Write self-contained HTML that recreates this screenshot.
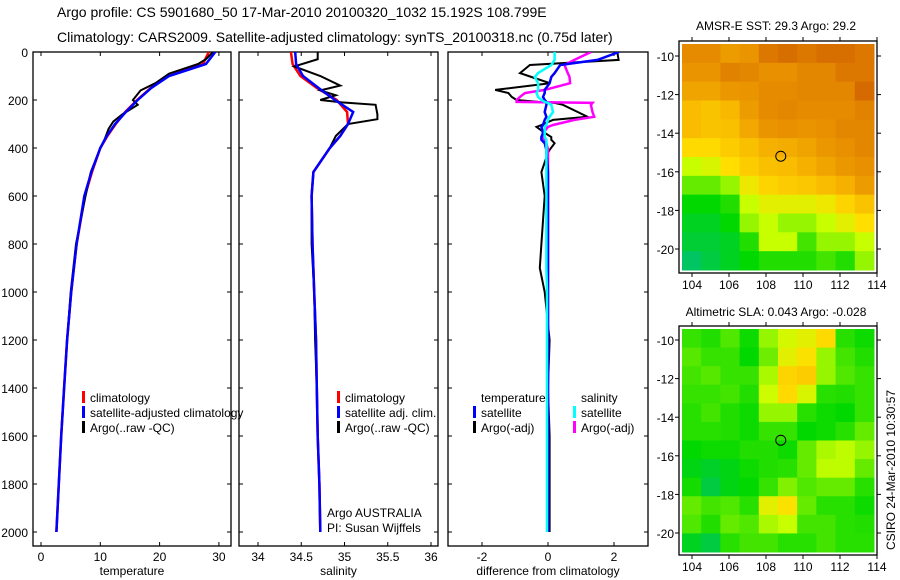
<!DOCTYPE html>
<html><head><meta charset="utf-8"><style>
body{margin:0;background:#fff;width:900px;height:580px;overflow:hidden}
svg{display:block;font-family:"Liberation Sans",sans-serif}
</style></head><body>
<svg id="s" width="900" height="580" viewBox="0 0 900 580">
<text x="57" y="17" font-size="14">Argo profile: CS 5901680_50 17-Mar-2010 20100320_1032 15.192S 108.799E</text>
<text x="57" y="42" font-size="14">Climatology: CARS2009. Satellite-adjusted climatology: synTS_20100318.nc (0.75d later)</text>
<text x="776" y="30" font-size="12" text-anchor="middle">AMSR-E SST: 29.3 Argo: 29.2</text>
<text x="776" y="316" font-size="12" text-anchor="middle">Altimetric SLA: 0.043 Argo: -0.028</text>
<text transform="translate(895,470) rotate(-90)" font-size="12" text-anchor="middle">CSIRO 24-Mar-2010 10:30:57</text>
</svg>
<script>
// ---- data ----
const depthTicks=[0,200,400,600,800,1000,1200,1400,1600,1800,2000];
const tempTicks=[0,10,20,30];
const salTicks=[34,34.5,35,35.5,36];
const diffTicks=[-2,0,2];
const climDepth=[0,50,100,150,200,250,300,350,400,500,600,800,1000,1200,1400,1600,1800,2000];
const tempClim=[28.3,27.3,21.5,18.5,16.2,14.2,12.6,11.2,10.0,8.6,7.4,6.0,5.1,4.4,3.9,3.4,3.0,2.6];
const tempSat=[29.4,27.8,21.6,18.6,16.3,14.3,12.5,11.1,10.0,8.5,7.3,6.0,5.1,4.4,3.9,3.4,3.0,2.6];
const argoTempDepth=[0,30,50,90,130,160,200,220,260,290,320,360,400,500,600,800,1000,1200,1400,1600,1800,2000];
const argoTemp=[29.0,27.8,26.5,21.6,19.3,16.8,15.5,16.3,13.7,12.2,11.4,10.8,10.0,8.4,7.5,5.9,5.0,4.4,3.9,3.4,3.0,2.6];
const salClim=[34.38,34.40,34.49,34.68,34.91,35.03,35.04,34.95,34.83,34.64,34.62,34.63,34.65,34.67,34.68,34.69,34.71,34.72];
const salSat=[34.43,34.44,34.52,34.70,34.89,35.10,35.04,34.95,34.83,34.64,34.62,34.63,34.65,34.67,34.68,34.69,34.71,34.72];
const argoSalDepth=[0,30,60,100,140,160,180,200,210,220,260,280,300,350,400,500,600,800,1000,1200,1400,1600,1800,2000];
const argoSal=[34.69,34.69,34.42,34.72,34.95,34.72,34.90,34.72,34.97,35.36,35.38,35.38,35.04,34.90,34.83,34.64,34.62,34.62,34.65,34.66,34.68,34.69,34.71,34.72];
const diffDepth=[0,33,54,88,104,130,158,171,187,200,208,212,220,250,270,283,304,312,337,354,366,380,408,420,500,600,800,900,1000,1200,1400,1600,1800,2000];
const diffTempArgo=[2.1,2.14,-0.55,-0.85,-0.5,0.06,-1.6,-1.2,-1.1,-0.95,-0.3,0.2,0.45,0.9,1.2,0.15,-0.2,-0.35,-0.1,0.1,0.1,0.2,0.05,0.0,-0.2,-0.1,-0.2,-0.25,-0.1,0.05,0.0,0.05,0.05,0.05];
const diffTempSat=[2.15,1.5,0.37,0.2,0.1,0.05,-0.1,-0.1,-0.15,-0.1,-0.05,-0.05,-0.05,-0.1,-0.05,-0.1,-0.15,-0.2,-0.15,-0.2,-0.2,-0.1,-0.05,-0.05,0,0,0,0,0,0,0,0,0,0];
const diffSalSat=[0.2,0.2,0.1,-0.3,-0.4,-0.3,-0.3,-0.35,-0.3,-0.2,-0.1,0.0,0.1,0.15,0.05,0.0,-0.05,-0.1,-0.1,-0.1,-0.05,-0.05,-0.05,-0.05,-0.05,-0.05,-0.05,-0.05,-0.03,-0.03,-0.03,-0.03,-0.03,-0.03];
const diffSalArgo=[1.3,0.8,0.5,0.6,0.65,0.67,-0.1,-0.7,-0.85,-0.95,-0.95,1.35,1.3,1.35,1.4,0.8,0.15,0.0,-0.15,-0.15,-0.1,-0.05,0.0,0.0,0.0,0.0,0.0,0.0,0.0,0.0,0.0,0.0,0.0,0.0];
const latTicks=[-10,-12,-14,-16,-18,-20];
const lonTicks=[104,106,108,110,112,114];
const sstGrid=[
[0.86,0.86,0.82,0.84,0.9,0.92,0.9,0.92,0.92,0.9],
[0.84,0.84,0.88,0.87,0.85,0.85,0.87,0.87,0.9,0.9],
[0.8,0.8,0.83,0.84,0.86,0.86,0.87,0.87,0.87,0.93],
[0.74,0.72,0.75,0.82,0.86,0.87,0.86,0.86,0.86,0.88],
[0.74,0.72,0.73,0.79,0.84,0.85,0.84,0.85,0.87,0.87],
[0.66,0.66,0.7,0.73,0.77,0.78,0.8,0.83,0.85,0.87],
[0.55,0.58,0.65,0.7,0.73,0.74,0.77,0.8,0.83,0.85],
[0.45,0.45,0.5,0.62,0.68,0.7,0.71,0.74,0.77,0.82],
[0.3,0.3,0.35,0.55,0.6,0.6,0.6,0.62,0.68,0.72],
[0.25,0.25,0.3,0.5,0.55,0.5,0.5,0.55,0.6,0.65],
[0.22,0.22,0.25,0.35,0.55,0.55,0.4,0.5,0.5,0.55],
[0.15,0.2,0.25,0.3,0.35,0.35,0.35,0.4,0.35,0.5]];
const slaGrid=[
[0.38,0.35,0.42,0.32,0.5,0.57,0.6,0.66,0.36,0.32],
[0.43,0.38,0.38,0.3,0.46,0.6,0.64,0.5,0.4,0.35],
[0.4,0.43,0.38,0.38,0.52,0.68,0.7,0.5,0.42,0.38],
[0.38,0.38,0.4,0.35,0.56,0.66,0.58,0.36,0.35,0.38],
[0.36,0.4,0.35,0.32,0.5,0.5,0.36,0.32,0.3,0.38],
[0.36,0.36,0.35,0.32,0.38,0.38,0.3,0.32,0.36,0.45],
[0.3,0.32,0.32,0.35,0.35,0.32,0.45,0.52,0.54,0.5],
[0.27,0.24,0.27,0.32,0.35,0.36,0.45,0.54,0.54,0.45],
[0.33,0.2,0.27,0.3,0.38,0.48,0.42,0.45,0.45,0.36],
[0.45,0.4,0.42,0.36,0.6,0.64,0.45,0.36,0.36,0.32],
[0.42,0.35,0.45,0.42,0.52,0.55,0.4,0.4,0.36,0.35],
[0.25,0.2,0.36,0.4,0.4,0.36,0.36,0.4,0.36,0.36]];
const argoLat=-15.192, argoLon=108.799;

// ---- drawing ----
const S=document.getElementById('s');const NS='http://www.w3.org/2000/svg';
function mk(t,a,p){const e=document.createElementNS(NS,t);for(const k in a)e.setAttribute(k,a[k]);(p||S).appendChild(e);return e;}
const yD=d=>52+d*0.24;
const panels=[
 {x0:33,x1:231,xs:v=>41+v*5.93,ticks:tempTicks,label:'temperature',name:'temperature-panel'},
 {x0:239,x1:438,xs:v=>258+(v-34)*86.5,ticks:salTicks,label:'salinity',name:'salinity-panel'},
 {x0:448,x1:648,xs:v=>548+v*33,ticks:diffTicks,label:'difference from climatology',name:'difference-panel'}];
const TOP=52,BOT=546;
panels.forEach((p,i)=>{
 const g=mk('g',{});
 
 
 const cp=mk('clipPath',{id:'cp'+i},g);mk('rect',{x:p.x0,y:TOP,width:p.x1-p.x0,height:BOT-TOP},cp);
 p.g=g;p.clip='url(#cp'+i+')';
 const fr=mk('rect',{x:p.x0,y:TOP,width:p.x1-p.x0,height:BOT-TOP,fill:'none',stroke:'#000','stroke-width':1.3},g);
 
 
 depthTicks.forEach(d=>{
  mk('line',{x1:p.x0,x2:p.x0+4,y1:yD(d),y2:yD(d),stroke:'#000'},g);
  mk('line',{x1:p.x1,x2:p.x1-4,y1:yD(d),y2:yD(d),stroke:'#000'},g);
  if(i==0){const t=mk('text',{x:28,y:yD(d)+5,'font-size':12,'text-anchor':'end'},g);t.textContent=d;
   
   }
 });
 p.ticks.forEach(v=>{const x=p.xs(v);
  mk('line',{x1:x,x2:x,y1:BOT,y2:BOT-4,stroke:'#000'},g);
  mk('line',{x1:x,x2:x,y1:TOP,y2:TOP+4,stroke:'#000'},g);
  const t=mk('text',{x:x,y:BOT+15,'font-size':12,'text-anchor':'middle'},g);t.textContent=v;
  
  });
 const xl=mk('text',{x:(p.x0+p.x1)/2,y:BOT+29,'font-size':12,'text-anchor':'middle'},g);xl.textContent=p.label;
 
 
});
function line(p,depths,vals,color,w,name){
 const pts=depths.map((d,k)=>p.xs(vals[k]).toFixed(1)+','+yD(d).toFixed(1)).join(' ');
 const e=mk('polyline',{points:pts,fill:'none',stroke:color,'stroke-width':w,'clip-path':p.clip},p.g);
 
 
}
const [P1,P2,P3]=panels;
line(P1,climDepth,tempClim,'#f00',2.5,'temperature-climatology-line');
line(P1,argoTempDepth,argoTemp,'#000',2,'temperature-argo-line');
line(P1,climDepth,tempSat,'#00f',2.5,'temperature-satellite-line');
line(P2,climDepth,salClim,'#f00',2.5,'salinity-climatology-line');
line(P2,argoSalDepth,argoSal,'#000',2,'salinity-argo-line');
line(P2,climDepth,salSat,'#00f',2.5,'salinity-satellite-line');
line(P3,diffDepth,diffTempArgo,'#000',2,'temp-diff-argo-line');
line(P3,diffDepth,diffSalArgo,'#f0f',2.5,'sal-diff-argo-line');
line(P3,diffDepth,diffTempSat,'#00f',2.5,'temp-diff-satellite-line');
line(P3,diffDepth,diffSalSat,'#0ff',2.5,'sal-diff-satellite-line');
function leg(x,y,color,txt,name){
 const g=mk('g',{});
 
 
 if(color)mk('rect',{x:x,y:y-11,width:3,height:12,fill:color},g);
 const t=mk('text',{x:x+8,y:y,'font-size':12},g);t.textContent=txt;
}
leg(82,402,'#f00','climatology','legend-climatology');
leg(82,417,'#00f','satellite-adjusted climatology','legend-satellite');
leg(82,432,'#000','Argo(..raw -QC)','legend-argo');
leg(337,402,'#f00','climatology','legend-sal-climatology');
leg(337,417,'#00f','satellite adj. clim.','legend-sal-satellite');
leg(337,432,'#000','Argo(..raw -QC)','legend-sal-argo');
leg(473,402,null,'temperature','legend-temp-header');
leg(473,417,'#00f','satellite','legend-temp-satellite');
leg(473,432,'#000','Argo(-adj)','legend-temp-argo');
leg(573,402,null,'salinity','legend-sal-header');
leg(573,417,'#0ff','satellite','legend-sal-sat');
leg(573,432,'#f0f','Argo(-adj)','legend-sal-argo2');
leg(319,517,null,'Argo AUSTRALIA','argo-australia-label');
leg(319,532,null,'PI: Susan Wijffels','pi-label');

// maps
const cmap=[[0.1,[0,190,130]],[0.3,[0,216,0]],[0.45,[100,235,0]],[0.55,[200,255,0]],[0.65,[255,222,0]],[0.75,[248,184,0]],[0.85,[232,144,0]],[0.95,[208,96,0]]];
function col(v){if(v<=cmap[0][0])return cmap[0][1];for(let i=1;i<cmap.length;i++){if(v<=cmap[i][0]){const a=cmap[i-1],b=cmap[i],t=(v-a[0])/(b[0]-a[0]);return a[1].map((c,k)=>Math.round(c+(b[1][k]-c)*t));}}return cmap[cmap.length-1][1];}
function map(grid,top,bot,lat10,lat20,name){
 const X0=679,X1=877;const g=mk('g',{});
 
 
 const lonX=l=>692+(l-104)*18.5;const latY=l=>lat10+(-10-l)*(lat20-lat10)/10;
 const rows=grid.length,cols=grid[0].length;
 const fy0=top+3,fy1=bot-3,fx0=X0+3,fx1=X1-3;
 const cw=(fx1-fx0)/cols,ch=(fy1-fy0)/rows;
 grid.forEach((r,i)=>r.forEach((v,j)=>{const c=col(v);
  const e=mk('rect',{x:fx0+j*cw,y:fy0+i*ch,width:cw+0.5,height:ch+0.5,fill:'rgb('+c.join(',')+')'},g);
  
  }));
 mk('rect',{x:X0,y:top,width:X1-X0,height:bot-top,fill:'none',stroke:'#000','stroke-width':1.3},g);
 latTicks.forEach(l=>{const y=latY(l);mk('line',{x1:X0,x2:X0-4,y1:y,y2:y,stroke:'#000'},g);mk('line',{x1:X1,x2:X1+4,y1:y,y2:y,stroke:'#000'},g);
  const t=mk('text',{x:674,y:y+5,'font-size':12,'text-anchor':'end'},g);t.textContent=l;
  
  });
 lonTicks.forEach(l=>{const x=lonX(l);mk('line',{x1:x,x2:x,y1:top,y2:top-4,stroke:'#000'},g);mk('line',{x1:x,x2:x,y1:bot,y2:bot+4,stroke:'#000'},g);
  const t=mk('text',{x:x,y:bot+16,'font-size':12,'text-anchor':'middle'},g);t.textContent=l;
  
  });
 const m=mk('circle',{cx:lonX(argoLon),cy:latY(argoLat),r:5,fill:'none',stroke:'#000','stroke-width':1},g);
 
 
}
map(sstGrid,41,273,56,249,'sst-map');
map(slaGrid,326,555,340,533,'sla-map');
</script>
</body></html>
